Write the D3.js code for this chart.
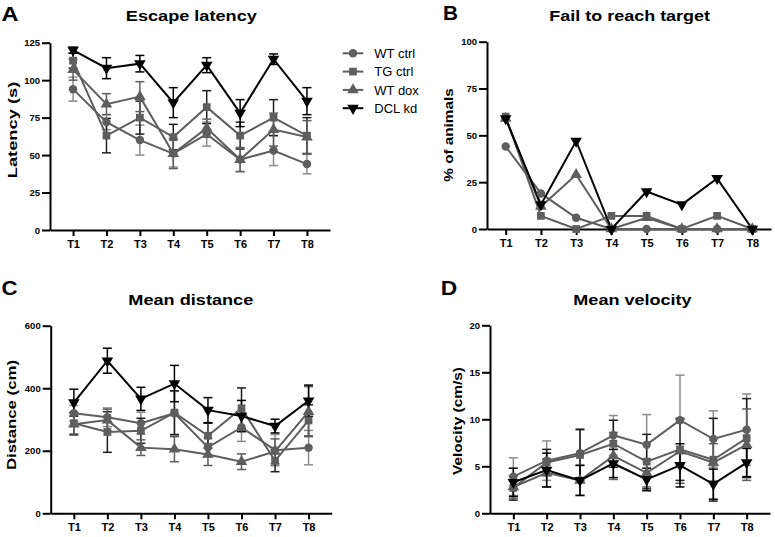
<!DOCTYPE html>
<html>
<head>
<meta charset="utf-8">
<script src="https://cdn.jsdelivr.net/npm/d3@7"></script>
<style>
  html, body { margin: 0; padding: 0; background: #fff; }
  svg { display: block; font-family: "Liberation Sans", Arial, Helvetica, sans-serif; }
</style>
</head>
<body>
<svg id="chart" width="775" height="537"></svg>
<script>
// ---------------- DATA ----------------
const trials = ["T1", "T2", "T3", "T4", "T5", "T6", "T7", "T8"];
const groups = ["WT ctrl", "TG ctrl", "WT dox", "DCL kd"];

// A: Escape latency (s) — mean and SEM, rows follow `groups`
const latencyMeans = [
  [94, 72, 60, 51, 64, 47, 53, 44],
  [113, 63, 75, 62, 82, 63, 75, 63],
  [107, 84, 89, 51, 68, 47, 67, 62],
  [120, 108, 111, 85, 110, 78, 114, 86]
];
const latencySem = [
  [8, 5, 10, 9, 8, 8, 10, 6.5],
  [5, 11.5, 11, 8.5, 11, 9, 12, 12],
  [7, 7, 10, 10, 6, 8, 11, 11],
  [2, 7, 5.5, 10, 5, 9, 3.5, 9]
];

// B: Fail to reach target (% of animals)
const failPercent = [
  [44, 19, 6, 0, 0, 0, 0, 0],
  [60, 7, 0, 7, 7, 0, 7, 0],
  [59, 12, 29, 0, 6, 0, 0, 0],
  [59, 13, 47, 0, 20, 13, 27, 0]
];

// C: Mean distance (cm)
const distanceMeans = [
  [320, 307, 288, 320, 211, 275, 202, 210],
  [288, 260, 264, 322, 248, 336, 168, 297],
  [285, 298, 210, 205, 188, 165, 198, 325],
  [354, 488, 366, 415, 330, 311, 279, 360]
];
const distanceSem = [
  [25, 30, 35, 70, 30, 45, 50, 55],
  [35, 65, 40, 70, 40, 65, 35, 50],
  [35, 35, 25, 40, 35, 25, 40, 80],
  [43, 40, 37, 58, 40, 50, 22, 50]
];

// D: Mean velocity (cm/s)
const velocityMeans = [
  [3.9, 5.6, 6.4, 8.3, 7.3, 9.9, 7.9, 8.9],
  [2.7, 5.4, 6.2, 7.4, 5.5, 6.8, 5.7, 8.0],
  [2.8, 4.3, 3.5, 6.1, 4.3, 6.6, 5.4, 7.3],
  [3.3, 4.6, 3.5, 5.3, 3.6, 5.1, 3.1, 5.4]
];
const velocitySem = [
  [2.0, 2.1, 2.6, 2.1, 3.2, 4.8, 3.0, 3.8],
  [1.3, 1.4, 2.7, 2.5, 2.9, 3.3, 4.4, 4.2],
  [1.2, 1.5, 1.6, 2.5, 1.5, 3.4, 2.0, 3.8],
  [1.5, 1.8, 1.6, 1.5, 1.2, 2.3, 1.6, 1.5]
];

const latencyTicks = [0, 25, 50, 75, 100, 125];
const failTicks = [0, 25, 50, 75, 100];
const distanceTicks = [0, 200, 400, 600];
const velocityTicks = [0, 5, 10, 15, 20];

// ---------------- STYLE ----------------
const lineColors = ["#5e5e5e", "#5e5e5e", "#5e5e5e", "#000000"];
const errColors = ["#8c8c8c", "#1e1e1e", "#5e5e5e", "#000000"];
const symbolTypes = [d3.symbolCircle, d3.symbolSquare, d3.symbolTriangle, d3.symbolTriangle];
const symbolSizes = [56, 60, 58, 58];
const symbolRotate = [0, 0, 0, 180];

const svg = d3.select("#chart");

const panels = [
  { letter: "A", title: "Escape latency", yTitle: "Latency (s)",
    means: latencyMeans, sem: latencySem, ticks: latencyTicks, domain: [0, 125],
    xRange: [50, 330], xPad: 0.69, yRange: [230, 42.7],
    letterX: 1.5, letterY: 20.5, letterLen: 17,
    titleX: 191.3, titleY: 21, titleLen: 131,
    yTitleX: 16.5, yTitleY: 130, yTitleLen: 96.5 },
  { letter: "B", title: "Fail to reach target", yTitle: "% of animals",
    means: failPercent, sem: null, ticks: failTicks, domain: [0, 100],
    xRange: [487, 771], xPad: 0.53, yRange: [229, 41.7],
    letterX: 443, letterY: 20.3, letterLen: 15,
    titleX: 629.7, titleY: 21, titleLen: 160.7,
    yTitleX: 453, yTitleY: 135, yTitleLen: 93.3 },
  { letter: "C", title: "Mean distance", yTitle: "Distance (cm)",
    means: distanceMeans, sem: distanceSem, ticks: distanceTicks, domain: [0, 600],
    xRange: [50.7, 331.7], xPad: 0.69, yRange: [513.3, 325.7],
    letterX: 1.5, letterY: 295.3, letterLen: 16,
    titleX: 190.8, titleY: 305.3, titleLen: 125,
    yTitleX: 16, yTitleY: 415, yTitleLen: 110 },
  { letter: "D", title: "Mean velocity", yTitle: "Velocity (cm/s)",
    means: velocityMeans, sem: velocitySem, ticks: velocityTicks, domain: [0, 20],
    xRange: [490, 770], xPad: 0.7, yRange: [513.3, 325.3],
    letterX: 440.7, letterY: 294.5, letterLen: 16.5,
    titleX: 632.5, titleY: 305.3, titleLen: 118.3,
    yTitleX: 462, yTitleY: 421, yTitleLen: 108 }
];

panels.forEach(p => {
  const g = svg.append("g");
  const x = d3.scalePoint().domain(trials).range(p.xRange).padding(p.xPad);
  const y = d3.scaleLinear().domain(p.domain).range(p.yRange);

  // Panel letter
  g.append("text").attr("x", p.letterX).attr("y", p.letterY)
    .attr("font-size", 19.5).attr("font-weight", "bold")
    .attr("textLength", p.letterLen).attr("lengthAdjust", "spacingAndGlyphs")
    .text(p.letter);

  // Title
  g.append("text").attr("x", p.titleX - p.titleLen / 2).attr("y", p.titleY)
    .attr("font-size", 15.5).attr("font-weight", "bold")
    .attr("textLength", p.titleLen).attr("lengthAdjust", "spacingAndGlyphs")
    .text(p.title);

  // Y title
  g.append("text")
    .attr("transform", `translate(${p.yTitleX},${p.yTitleY + p.yTitleLen / 2}) rotate(-90)`)
    .attr("font-size", 13.5).attr("font-weight", "bold")
    .attr("textLength", p.yTitleLen).attr("lengthAdjust", "spacingAndGlyphs")
    .text(p.yTitle);

  // Axes
  const yAxis = g.append("g").attr("transform", `translate(${p.xRange[0]},0)`)
    .call(d3.axisLeft(y).tickValues(p.ticks).tickSize(8).tickSizeOuter(0).tickPadding(2));
  yAxis.selectAll("text").attr("font-size", 9.5).attr("font-weight", "bold")
    .attr("font-family", "Liberation Sans, Arial, sans-serif").attr("fill", "#000");

  const xAxis = g.append("g").attr("transform", `translate(0,${p.yRange[0]})`)
    .call(d3.axisBottom(x).tickSize(6).tickSizeOuter(0).tickPadding(4));
  xAxis.selectAll("text").attr("font-size", 11).attr("font-weight", "bold")
    .attr("font-family", "Liberation Sans, Arial, sans-serif").attr("fill", "#000");

  [yAxis, xAxis].forEach(a => {
    a.select(".domain").attr("stroke", "#000").attr("stroke-width", 2);
    a.selectAll(".tick line").attr("stroke", "#000").attr("stroke-width", 2);
  });

  // Error bars
  if (p.sem) {
    groups.forEach((grp, gi) => {
      const eg = g.append("g").attr("stroke", errColors[gi]).attr("stroke-width", 1.5).attr("fill", "none");
      trials.forEach((t, i) => {
        const m = p.means[gi][i], s = p.sem[gi][i];
        const cx = x(t);
        eg.append("line").attr("x1", cx).attr("x2", cx).attr("y1", y(m - s)).attr("y2", y(m + s));
        [m - s, m + s].forEach(v => {
          eg.append("line").attr("x1", cx - 4.5).attr("x2", cx + 4.5).attr("y1", y(v)).attr("y2", y(v));
        });
      });
    });
  }

  // Lines & markers
  const line = d3.line().x((d, i) => x(trials[i])).y(d => y(d));
  groups.forEach((grp, gi) => {
    g.append("path").datum(p.means[gi]).attr("d", line)
      .attr("fill", "none").attr("stroke", lineColors[gi]).attr("stroke-width", 2)
      .attr("stroke-linejoin", "miter");
  });
  groups.forEach((grp, gi) => {
    const sym = d3.symbol().type(symbolTypes[gi]).size(symbolSizes[gi]);
    g.append("g").selectAll("path").data(p.means[gi]).join("path")
      .attr("d", sym)
      .attr("transform", (d, i) => `translate(${x(trials[i])},${y(d)}) rotate(${symbolRotate[gi]})`)
      .attr("fill", lineColors[gi]);
  });
});

// Legend
const legend = svg.append("g");
groups.forEach((grp, gi) => {
  const ly = 53.3 + gi * 18.3;
  legend.append("line").attr("x1", 342.7).attr("x2", 363.3).attr("y1", ly).attr("y2", ly)
    .attr("stroke", lineColors[gi]).attr("stroke-width", 2);
  legend.append("path").attr("d", d3.symbol().type(symbolTypes[gi]).size(symbolSizes[gi])())
    .attr("transform", `translate(353,${ly}) rotate(${symbolRotate[gi]})`)
    .attr("fill", lineColors[gi]);
  legend.append("text").attr("x", 374.3).attr("y", ly + 4.6)
    .attr("font-size", 13).attr("fill", "#000").text(grp);
});
</script>
</body>
</html>
